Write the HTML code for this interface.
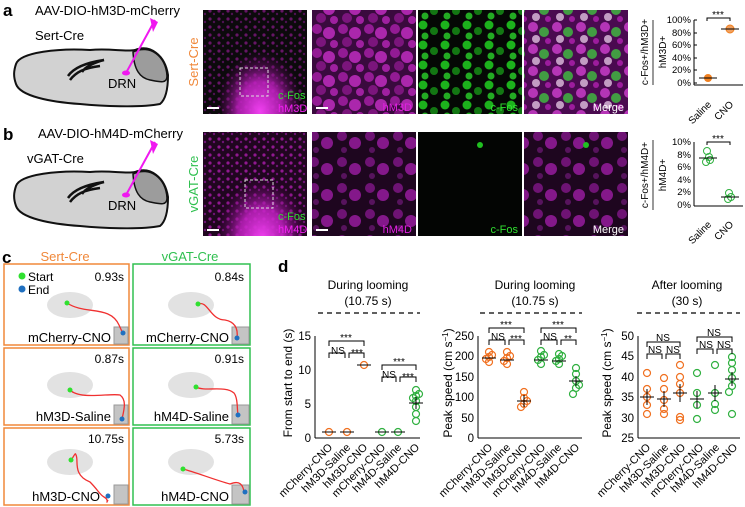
<!DOCTYPE html>
<html><head><meta charset="utf-8"><style>
html,body{margin:0;padding:0;background:#fff}
svg{display:block;font-family:"Liberation Sans",sans-serif}
</style></head><body>
<svg width="745" height="507" viewBox="0 0 745 507" xmlns="http://www.w3.org/2000/svg">
<defs>
<clipPath id="c1"><rect x="203" y="10" width="104" height="104"/></clipPath>
<clipPath id="c2"><rect x="203" y="132" width="104" height="104"/></clipPath>
<pattern id="pm" width="26" height="24" patternUnits="userSpaceOnUse">
<circle cx="5" cy="5" r="5" fill="#b020b0"/><circle cx="17" cy="9" r="6" fill="#d030d0"/><circle cx="9" cy="18" r="5" fill="#901890"/><circle cx="22" cy="20" r="4" fill="#c028c0"/></pattern>
<pattern id="pmd" width="28" height="26" patternUnits="userSpaceOnUse">
<circle cx="6" cy="6" r="5" fill="#901898"/><circle cx="19" cy="13" r="6" fill="#b020b8"/><circle cx="8" cy="20" r="3" fill="#701878"/></pattern>
<pattern id="pg" width="22" height="20" patternUnits="userSpaceOnUse">
<circle cx="5" cy="5" r="4.5" fill="#20d020"/><circle cx="16" cy="11" r="4" fill="#158a15"/><circle cx="7" cy="16" r="3.5" fill="#28c828"/></pattern>
<pattern id="pmg" width="24" height="22" patternUnits="userSpaceOnUse">
<circle cx="5" cy="5" r="5" fill="#d040d0"/><circle cx="16" cy="10" r="5" fill="#40c040"/><circle cx="8" cy="17" r="4" fill="#e0c0e0"/><circle cx="20" cy="19" r="3" fill="#b020b0"/></pattern>
<pattern id="dots" width="9" height="8" patternUnits="userSpaceOnUse">
<circle cx="3" cy="3" r="1.6" fill="#c020c0"/><circle cx="7" cy="6" r="1.2" fill="#901898"/></pattern>
<radialGradient id="cone" cx="0.5" cy="0.65" r="0.55"><stop offset="0" stop-color="#f040f0"/><stop offset="0.5" stop-color="#c020c0" stop-opacity="0.85"/><stop offset="1" stop-color="#500050" stop-opacity="0"/></radialGradient>
</defs>

<text x="3" y="16" font-size="17" font-weight="bold">a</text>
<text x="3" y="140" font-size="17" font-weight="bold">b</text>
<text x="35" y="15" font-size="13">AAV-DIO-hM3D-mCherry</text>
<text x="35" y="40" font-size="13">Sert-Cre</text>
<text x="38" y="138" font-size="13">AAV-DIO-hM4D-mCherry</text>
<text x="27" y="163" font-size="13">vGAT-Cre</text>

<g id="brain">
<path d="M16,64 C20,52 60,48 90,50 C110,48 125,52 135,50 C150,44 165,55 168,75 C168,90 165,100 160,104 C140,108 100,106 80,104 C50,102 20,96 16,84 C13,76 14,70 16,64Z" fill="#d2d2d2" stroke="#111" stroke-width="2"/>
<path d="M133,52 C150,44 166,56 167,76 C167,84 160,82 150,80 C140,78 134,70 133,52Z" fill="#9c9c9c" stroke="#111" stroke-width="1.5"/>
<path d="M68,76 C75,66 90,62 104,60 C96,62 86,66 82,72 M70,80 C76,72 84,68 100,66" stroke="#111" stroke-width="2.5" fill="none"/>
<text x="108" y="88" font-size="13">DRN</text>
<line x1="155" y1="20" x2="126" y2="73" stroke="#f018f0" stroke-width="2"/>
<polygon points="150,18 158,22 153,32" fill="#f018f0"/>
<ellipse cx="126" cy="73" rx="4" ry="2.5" fill="#f018f0"/>
</g>
<use href="#brain" transform="translate(0,122)"/>

<text transform="translate(198,62) rotate(-90)" text-anchor="middle" font-size="13" fill="#f0883a">Sert-Cre</text>
<g clip-path="url(#c1)">
<rect x="203" y="10" width="104" height="104" fill="#0c0a0c"/>
<rect x="203" y="10" width="104" height="104" fill="url(#dots)" opacity="0.5"/>
<ellipse cx="260" cy="95" rx="40" ry="55" fill="url(#cone)"/>
</g>
<rect x="240" y="68" width="28" height="28" fill="none" stroke="#ddd" stroke-dasharray="3,2"/>
<line x1="207" y1="108" x2="219" y2="108" stroke="#fff" stroke-width="2"/>
<text x="278" y="99" font-size="11" fill="#30e030">c-Fos</text>
<text x="278" y="112" font-size="11" fill="#f020f0">hM3D</text>
<rect x="312" y="10" width="104" height="104" fill="#3a0a3e"/>
<rect x="312" y="10" width="104" height="104" fill="url(#pm)" opacity="0.75"/>
<text x="412" y="111" font-size="11" fill="#e020e0" text-anchor="end">hM3D</text>
<line x1="316" y1="108" x2="328" y2="108" stroke="#fff" stroke-width="2"/>
<rect x="418" y="10" width="104" height="104" fill="#050805"/>
<rect x="418" y="10" width="104" height="104" fill="url(#pg)" opacity="0.85"/>
<text x="518" y="111" font-size="11" fill="#30e030" text-anchor="end">c-Fos</text>
<rect x="524" y="10" width="104" height="104" fill="#4a0a50"/>
<rect x="524" y="10" width="104" height="104" fill="url(#pmg)" opacity="0.8"/>
<text x="624" y="111" font-size="11" fill="#fff" text-anchor="end">Merge</text>

<text transform="translate(198,184) rotate(-90)" text-anchor="middle" font-size="13" fill="#30c050">vGAT-Cre</text>
<g clip-path="url(#c2)">
<rect x="203" y="132" width="104" height="104" fill="#20061f"/>
<rect x="203" y="132" width="104" height="104" fill="url(#dots)" opacity="0.7"/>
<ellipse cx="262" cy="222" rx="42" ry="55" fill="url(#cone)"/>
</g>
<rect x="245" y="180" width="28" height="28" fill="none" stroke="#ddd" stroke-dasharray="3,2"/>
<line x1="207" y1="230" x2="219" y2="230" stroke="#fff" stroke-width="2"/>
<text x="278" y="220" font-size="11" fill="#30e030">c-Fos</text>
<text x="278" y="233" font-size="11" fill="#f020f0">hM4D</text>
<rect x="312" y="132" width="104" height="104" fill="#1e061f"/>
<rect x="312" y="132" width="104" height="104" fill="url(#pmd)" opacity="0.7"/>
<text x="412" y="233" font-size="11" fill="#e020e0" text-anchor="end">hM4D</text>
<line x1="316" y1="230" x2="328" y2="230" stroke="#fff" stroke-width="2"/>
<rect x="418" y="132" width="104" height="104" fill="#030503"/>
<circle cx="480" cy="145" r="3" fill="#20c020"/>
<text x="518" y="233" font-size="11" fill="#30e030" text-anchor="end">c-Fos</text>
<rect x="524" y="132" width="104" height="104" fill="#1e061f"/>
<rect x="524" y="132" width="104" height="104" fill="url(#pmd)" opacity="0.7"/>
<circle cx="586" cy="145" r="3" fill="#20c020"/>
<text x="624" y="233" font-size="11" fill="#fff" text-anchor="end">Merge</text>

<g font-size="10">
<text transform="translate(648,52) rotate(-90)" text-anchor="middle" font-size="10">c-Fos+/hM3D+</text>
<line x1="653" y1="20" x2="653" y2="85" stroke="#000" stroke-width="0.8"/>
<text transform="translate(666,52) rotate(-90)" text-anchor="middle" font-size="10">hM3D+</text>
<line x1="694" y1="20" x2="694" y2="85" stroke="#000"/>
<line x1="694" y1="85" x2="743" y2="85" stroke="#000"/>
<g text-anchor="end" font-size="9.5">
<text x="691" y="23">100%</text><text x="691" y="36">80%</text><text x="691" y="48">60%</text><text x="691" y="61">40%</text><text x="691" y="73">20%</text><text x="691" y="86">0%</text></g>
<g stroke="#000"><line x1="694" y1="20" x2="697" y2="20"/><line x1="694" y1="33" x2="697" y2="33"/><line x1="694" y1="45" x2="697" y2="45"/><line x1="694" y1="58" x2="697" y2="58"/><line x1="694" y1="70" x2="697" y2="70"/><line x1="694" y1="83" x2="697" y2="83"/></g>
<circle cx="708" cy="78" r="4" fill="#f08020"/><line x1="699" y1="78" x2="717" y2="78" stroke="#000"/>
<circle cx="730" cy="29" r="4" fill="#f0a060" stroke="#f08020"/><line x1="721" y1="29" x2="739" y2="29" stroke="#000"/>
<path d="M707,21 V18 H730 V21" fill="none" stroke="#000"/><text x="718" y="18" text-anchor="middle" font-size="10">***</text>
<text transform="translate(712,105) rotate(-45)" text-anchor="end">Saline</text>
<text transform="translate(734,105) rotate(-45)" text-anchor="end">CNO</text>
</g>
<g font-size="10">
<text transform="translate(648,175) rotate(-90)" text-anchor="middle">c-Fos+/hM4D+</text>
<line x1="653" y1="140" x2="653" y2="210" stroke="#000" stroke-width="0.8"/>
<text transform="translate(666,175) rotate(-90)" text-anchor="middle">hM4D+</text>
<line x1="694" y1="142" x2="694" y2="206" stroke="#000"/>
<line x1="694" y1="206" x2="743" y2="206" stroke="#000"/>
<g text-anchor="end" font-size="9.5">
<text x="691" y="145">10%</text><text x="691" y="158">8%</text><text x="691" y="170">6%</text><text x="691" y="183">4%</text><text x="691" y="195">2%</text><text x="691" y="208">0%</text></g>
<g fill="none" stroke="#30b040"><circle cx="707" cy="151" r="3.5"/><circle cx="709" cy="157" r="3.5"/><circle cx="706" cy="162" r="3.5"/><circle cx="710" cy="160" r="3.5"/>
<circle cx="729" cy="193" r="3.5"/><circle cx="731" cy="197" r="3.5"/><circle cx="728" cy="199" r="3.5"/></g>
<line x1="699" y1="158" x2="717" y2="158" stroke="#000"/><line x1="721" y1="197" x2="739" y2="197" stroke="#000"/>
<path d="M707,145 V142 H730 V145" fill="none" stroke="#000"/><text x="718" y="142" text-anchor="middle">***</text>
<text transform="translate(712,225) rotate(-45)" text-anchor="end">Saline</text>
<text transform="translate(734,225) rotate(-45)" text-anchor="end">CNO</text>
</g>

<text x="2" y="263" font-size="17" font-weight="bold">c</text>
<text x="65" y="261" font-size="13" fill="#f0883a" text-anchor="middle">Sert-Cre</text>
<text x="190" y="261" font-size="13" fill="#30c050" text-anchor="middle">vGAT-Cre</text>
<g font-size="12.5" fill="none" stroke-width="1.5">
<rect x="4" y="264" width="125" height="81" stroke="#f0883a"/>
<rect x="133" y="264" width="117" height="81" stroke="#30c050"/>
<rect x="4" y="348" width="125" height="77" stroke="#f0883a"/>
<rect x="133" y="348" width="117" height="77" stroke="#30c050"/>
<rect x="4" y="428" width="125" height="77" stroke="#f0883a"/>
<rect x="133" y="428" width="117" height="77" stroke="#30c050"/>
</g>
<g fill="#e2e2e2"><ellipse cx="70" cy="305" rx="23" ry="13"/><ellipse cx="191" cy="305" rx="23" ry="13"/><ellipse cx="70" cy="385" rx="23" ry="13"/><ellipse cx="191" cy="385" rx="23" ry="13"/><ellipse cx="70" cy="462" rx="23" ry="13"/><ellipse cx="191" cy="462" rx="23" ry="13"/></g>
<g fill="#c4c4c4" stroke="#999"><rect x="114" y="327" width="14" height="17"/><rect x="232" y="327" width="17" height="17"/><rect x="114" y="405" width="14" height="19"/><rect x="232" y="405" width="17" height="19"/><rect x="114" y="485" width="14" height="19"/><rect x="232" y="485" width="17" height="19"/></g>
<g fill="none" stroke="#f03030" stroke-width="1.3">
<path d="M67,303 C85,315 110,305 119,325 C122,332 124,335 123,333"/>
<path d="M198,304 C208,300 210,320 225,320 C236,322 238,330 237,338"/>
<path d="M70,390 C80,400 110,393 120,395 C127,400 124,410 122,419"/>
<path d="M196,387 C205,392 225,385 234,393 C238,398 237,410 238,415"/>
<path d="M71,460 C75,455 75,452 76,455 C79,460 72,475 90,482 C98,490 100,495 104,497 C110,500 105,505 108,500"/>
<path d="M183,469 C195,472 215,480 230,484 C240,480 243,485 244,492"/>
</g>
<g fill="#30e030"><circle cx="22" cy="276" r="3.5"/><circle cx="67" cy="303" r="2.5"/><circle cx="198" cy="304" r="2.5"/><circle cx="70" cy="390" r="2.5"/><circle cx="196" cy="387" r="2.5"/><circle cx="71" cy="460" r="2.5"/><circle cx="183" cy="469" r="2.5"/></g>
<g fill="#2070c0"><circle cx="22" cy="289" r="3.5"/><circle cx="123" cy="333" r="2.5"/><circle cx="237" cy="338" r="2.5"/><circle cx="122" cy="419" r="2.5"/><circle cx="238" cy="415" r="2.5"/><circle cx="108" cy="496" r="2.5"/><circle cx="245" cy="492" r="2.5"/></g>
<g font-size="12">
<text x="28" y="281">Start</text><text x="28" y="294">End</text>
<text x="124" y="281" text-anchor="end">0.93s</text><text x="244" y="281" text-anchor="end">0.84s</text>
<text x="124" y="363" text-anchor="end">0.87s</text><text x="244" y="363" text-anchor="end">0.91s</text>
<text x="124" y="443" text-anchor="end">10.75s</text><text x="244" y="443" text-anchor="end">5.73s</text>
<text x="111" y="342" text-anchor="end" font-size="13">mCherry-CNO</text>
<text x="229" y="342" text-anchor="end" font-size="13">mCherry-CNO</text>
<text x="111" y="421" text-anchor="end" font-size="13">hM3D-Saline</text>
<text x="229" y="421" text-anchor="end" font-size="13">hM4D-Saline</text>
<text x="100" y="501" text-anchor="end" font-size="13">hM3D-CNO</text>
<text x="229" y="501" text-anchor="end" font-size="13">hM4D-CNO</text>
</g>

<text x="278" y="272" font-size="17" font-weight="bold">d</text>
<g font-size="12" text-anchor="middle">
<text x="368" y="289">During looming</text><text x="368" y="305">(10.75 s)</text>
<text x="535" y="289">During looming</text><text x="535" y="305">(10.75 s)</text>
<text x="687" y="289">After looming</text><text x="687" y="305">(30 s)</text>
</g>
<g stroke="#000" stroke-width="1.2" stroke-dasharray="5,4"><line x1="318" y1="313" x2="420" y2="313"/><line x1="480" y1="313" x2="582" y2="313"/><line x1="637" y1="313" x2="740" y2="313"/></g>
<g font-size="12" text-anchor="middle">
<text transform="translate(292,383) rotate(-90)">From start to end (s)</text>
<text transform="translate(452,383) rotate(-90)">Peak speed (cm s<tspan dy="-4" font-size="8">−1</tspan><tspan dy="4">)</tspan></text>
<text transform="translate(611,383) rotate(-90)">Peak speed (cm s<tspan dy="-4" font-size="8">−1</tspan><tspan dy="4">)</tspan></text>
</g>
<g stroke="#000" stroke-width="1">
<line x1="315" y1="336" x2="315" y2="438"/><line x1="315" y1="438" x2="420" y2="438"/>
<line x1="478" y1="336" x2="478" y2="438"/><line x1="478" y1="438" x2="582" y2="438"/>
<line x1="638" y1="336" x2="638" y2="438"/><line x1="638" y1="438" x2="740" y2="438"/>
</g>
<g font-size="11.5" text-anchor="end">
<text x="311" y="340">15</text><text x="311" y="374">10</text><text x="311" y="408">5</text><text x="311" y="442">0</text>
<text x="474" y="340">250</text><text x="474" y="360">200</text><text x="474" y="381">150</text><text x="474" y="401">100</text><text x="474" y="422">50</text><text x="474" y="442">0</text>
<text x="634" y="340">50</text><text x="634" y="360">45</text><text x="634" y="381">40</text><text x="634" y="401">35</text><text x="634" y="422">30</text><text x="634" y="442">25</text>
</g>
<g font-size="11" text-anchor="end">
<g id="xl1">
<text transform="translate(333,448) rotate(-45)">mCherry-CNO</text>
<text transform="translate(351,448) rotate(-45)">hM3D-Saline</text>
<text transform="translate(368,448) rotate(-45)">hM3D-CNO</text>
<text transform="translate(386,448) rotate(-45)">mCherry-CNO</text>
<text transform="translate(402,448) rotate(-45)">hM4D-Saline</text>
<text transform="translate(420,448) rotate(-45)">hM4D-CNO</text>
</g>
<use href="#xl1" transform="translate(160,0)"/>
<use href="#xl1" transform="translate(318,0)"/>
</g>
<g fill="none" stroke-width="1.2">
<g stroke="#f07020"><circle cx="329" cy="432" r="3.5"/><circle cx="347" cy="432" r="3.5"/><circle cx="364" cy="365" r="3.5"/></g>
<g stroke="#30b040"><circle cx="382" cy="432" r="3.5"/><circle cx="398" cy="432" r="3.5"/>
<circle cx="416" cy="390" r="3.5"/><circle cx="416" cy="396" r="3.5"/><circle cx="416" cy="401" r="3.5"/><circle cx="416" cy="407" r="3.5"/><circle cx="416" cy="414" r="3.5"/><circle cx="416" cy="421" r="3.5"/><circle cx="413" cy="398" r="3.5"/><circle cx="419" cy="394" r="3.5"/></g>
</g>
<g stroke="#000"><line x1="322" y1="432" x2="336" y2="432"/><line x1="340" y1="432" x2="354" y2="432"/><line x1="357" y1="365" x2="371" y2="365"/><line x1="375" y1="432" x2="389" y2="432"/><line x1="391" y1="432" x2="405" y2="432"/><line x1="409" y1="403" x2="423" y2="403"/><line x1="416" y1="397" x2="416" y2="409"/></g>
<g fill="none" stroke="#000" font-size="10">
<path d="M329,346 V341 H364 V346"/><path d="M329,358 V353 H345 V358"/><path d="M349,358 V353 H364 V358"/>
<path d="M382,370 V365 H416 V370"/><path d="M382,382 V377 H396 V382"/><path d="M400,382 V377 H416 V382"/>
</g>
<g font-size="10" text-anchor="middle">
<text x="346" y="341">***</text><text x="338" y="354">NS</text><text x="357" y="356">***</text>
<text x="399" y="365">***</text><text x="389" y="378">NS</text><text x="408" y="380">***</text>
</g>
<g fill="none" stroke-width="1.2">
<g stroke="#f07020">
<circle cx="489" cy="352" r="3.5"/><circle cx="489" cy="357" r="3.5"/><circle cx="489" cy="362" r="3.5"/><circle cx="486" cy="359" r="3.5"/><circle cx="492" cy="355" r="3.5"/>
<circle cx="507" cy="352" r="3.5"/><circle cx="507" cy="358" r="3.5"/><circle cx="507" cy="364" r="3.5"/><circle cx="504" cy="361" r="3.5"/><circle cx="510" cy="356" r="3.5"/>
<circle cx="524" cy="392" r="3.5"/><circle cx="524" cy="398" r="3.5"/><circle cx="524" cy="404" r="3.5"/><circle cx="521" cy="407" r="3.5"/><circle cx="527" cy="401" r="3.5"/></g>
<g stroke="#30b040">
<circle cx="541" cy="351" r="3.5"/><circle cx="541" cy="357" r="3.5"/><circle cx="541" cy="364" r="3.5"/><circle cx="538" cy="360" r="3.5"/><circle cx="544" cy="355" r="3.5"/>
<circle cx="559" cy="354" r="3.5"/><circle cx="559" cy="359" r="3.5"/><circle cx="559" cy="364" r="3.5"/><circle cx="556" cy="361" r="3.5"/><circle cx="562" cy="356" r="3.5"/>
<circle cx="576" cy="368" r="3.5"/><circle cx="576" cy="374" r="3.5"/><circle cx="576" cy="381" r="3.5"/><circle cx="576" cy="388" r="3.5"/><circle cx="573" cy="394" r="3.5"/><circle cx="579" cy="385" r="3.5"/></g>
</g>
<g stroke="#000"><line x1="482" y1="358" x2="496" y2="358"/><line x1="500" y1="360" x2="514" y2="360"/><line x1="517" y1="401" x2="531" y2="401"/><line x1="534" y1="360" x2="548" y2="360"/><line x1="552" y1="361" x2="566" y2="361"/><line x1="569" y1="381" x2="583" y2="381"/>
<line x1="524" y1="395" x2="524" y2="407"/><line x1="576" y1="376" x2="576" y2="386"/></g>
<g fill="none" stroke="#000"><path d="M489,333 V328 H524 V333"/><path d="M489,345 V340 H505 V345"/><path d="M509,345 V340 H524 V345"/>
<path d="M541,333 V328 H576 V333"/><path d="M541,345 V340 H557 V345"/><path d="M561,345 V340 H576 V345"/></g>
<g font-size="10" text-anchor="middle"><text x="506" y="328">***</text><text x="498" y="340">NS</text><text x="516" y="342">***</text>
<text x="558" y="328">***</text><text x="550" y="340">NS</text><text x="568" y="342">**</text></g>
<g fill="none" stroke-width="1.2">
<g stroke="#f07020">
<circle cx="647" cy="373" r="3.5"/><circle cx="647" cy="389" r="3.5"/><circle cx="647" cy="397" r="3.5"/><circle cx="647" cy="405" r="3.5"/><circle cx="647" cy="414" r="3.5"/>
<circle cx="664" cy="378" r="3.5"/><circle cx="664" cy="389" r="3.5"/><circle cx="664" cy="400" r="3.5"/><circle cx="664" cy="409" r="3.5"/><circle cx="664" cy="414" r="3.5"/>
<circle cx="680" cy="365" r="3.5"/><circle cx="680" cy="377" r="3.5"/><circle cx="680" cy="384" r="3.5"/><circle cx="680" cy="393" r="3.5"/><circle cx="680" cy="417" r="3.5"/><circle cx="680" cy="420" r="3.5"/></g>
<g stroke="#30b040">
<circle cx="697" cy="373" r="3.5"/><circle cx="697" cy="393" r="3.5"/><circle cx="697" cy="405" r="3.5"/><circle cx="697" cy="419" r="3.5"/>
<circle cx="715" cy="365" r="3.5"/><circle cx="715" cy="393" r="3.5"/><circle cx="715" cy="404" r="3.5"/><circle cx="715" cy="410" r="3.5"/>
<circle cx="732" cy="357" r="3.5"/><circle cx="732" cy="363" r="3.5"/><circle cx="732" cy="370" r="3.5"/><circle cx="732" cy="378" r="3.5"/><circle cx="732" cy="386" r="3.5"/><circle cx="729" cy="392" r="3.5"/><circle cx="732" cy="414" r="3.5"/></g>
</g>
<g stroke="#000"><line x1="640" y1="397" x2="654" y2="397"/><line x1="657" y1="399" x2="671" y2="399"/><line x1="673" y1="393" x2="687" y2="393"/><line x1="690" y1="399" x2="704" y2="399"/><line x1="708" y1="393" x2="722" y2="393"/><line x1="725" y1="379" x2="739" y2="379"/>
<line x1="647" y1="389" x2="647" y2="405"/><line x1="664" y1="391" x2="664" y2="407"/><line x1="680" y1="384" x2="680" y2="402"/><line x1="697" y1="391" x2="697" y2="408"/><line x1="715" y1="385" x2="715" y2="401"/><line x1="732" y1="372" x2="732" y2="386"/></g>
<g fill="none" stroke="#000"><path d="M647,347 V342 H680 V347"/><path d="M647,359 V354 H662 V359"/><path d="M666,359 V354 H680 V359"/>
<path d="M697,342 V337 H732 V342"/><path d="M697,354 V349 H713 V354"/><path d="M717,354 V349 H732 V354"/></g>
<g font-size="10" text-anchor="middle"><text x="663" y="341">NS</text><text x="655" y="353">NS</text><text x="673" y="353">NS</text>
<text x="714" y="336">NS</text><text x="706" y="348">NS</text><text x="724" y="348">NS</text></g>
</svg>
</body></html>
